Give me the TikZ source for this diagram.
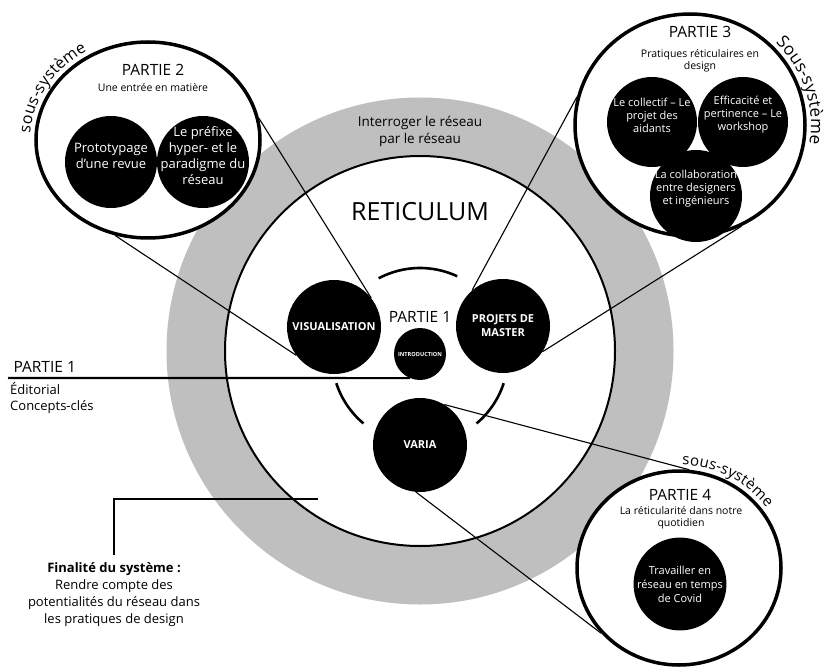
\documentclass[tikz,border=0pt]{standalone}
\usepackage{fontspec}
\setmainfont{Open Sans}
\usetikzlibrary{shapes.geometric,decorations.text}
\newcommand\sz[2]{\fontsize{#1}{#2}\selectfont}

\begin{document}
\begin{tikzpicture}[x=1pt, y=1pt,
    sys/.style n args={2}{ellipse, draw, line width=3.5pt, fill=white, inner sep=0pt, minimum width=#1, minimum height=#2},
    blob/.style={circle, fill=black, text=white, inner sep=0pt, minimum size=#1, align=center},
    blob/.default=92pt,
    intext/.style={text=white, align=center, inner sep=0pt},
    caps/.style={font=\bfseries\sz{11}{14}, text=white},
    head/.style={font=\sz{15.5}{18}},
    sub/.style={align=center, font=\sz{10.5}{12}},
    link/.style={line width=1.1pt},
    rule/.style={line width=2.2pt},
    hubarc/.style={line width=2.6pt},
    tag/.style n args={2}{decorate, decoration={text along path, text align=center, raise=3pt, text={|\sz{#1}{#1}|#2}}}]
  \useasboundingbox (0,0) rectangle (824,-668);
  \node[circle, fill=black!25, inner sep=0pt, minimum size=507pt] (ring) at (420,-351) {};
  \node[circle, draw, line width=2pt, fill=white, inner sep=0pt, minimum size=390pt] (core) at (420,-351) {};
  \coordinate (hub) at (420,-356);
  \draw[hubarc] (hub) ++(65:88) arc[start angle=65, end angle=118, radius=88];
  \draw[hubarc] (hub) ++(198:88) arc[start angle=198, end angle=230, radius=88];
  \draw[hubarc] (hub) ++(-50:88) arc[start angle=-50, end angle=-18, radius=88];

  \node[align=center, font=\sz{13.5}{17}] (motto) at (420,-131) {Interroger le réseau\\par le réseau};
  \node[font=\sz{25}{30}] (title) at (420,-212) {RETICULUM};
  \node[head] (p1mid) at (420,-317) {PARTIE 1};
  \node[blob=94pt, caps] (vis) at (334,-327) {VISUALISATION};
  \node[blob=94pt, caps] (proj) at (503,-326) {PROJETS DE\\MASTER};
  \node[blob=94pt, caps] (varia) at (420,-445) {VARIA};
  \node[blob=52pt, font=\bfseries\sz{5.6}{7}] (intro) at (420,-354) {INTRODUCTION};

  \node[sys={224pt}{196pt}] (p2) at (148,-140) {};
  \node[head] (p2t) at (153,-70) {PARTIE 2};
  \node[sub] (p2s) at (153,-88) {Une entrée en matière};
  \node[blob] (proto) at (111,-162) {};
  \node[blob] (hyper) at (203,-162) {};
  \node[intext, font=\sz{13}{16}] (protot) at ([yshift=6]proto.center) {Prototypage\\d’une revue};
  \node[intext, font=\sz{13}{16}] (hypert) at ([yshift=6]hyper.center) {Le préfixe\\hyper- et le\\paradigme du\\réseau};

  \node[sys={230pt}{222pt}] (p3) at (690,-125) {};
  \node[head] (p3t) at (700,-32) {PARTIE 3};
  \node[sub] (p3s) at (700,-61) {Pratiques réticulaires en\\design};
  \node[blob=90pt] (coll) at (652,-122) {};
  \node[blob=90pt] (effi) at (743,-122) {};
  \node[blob] (collab) at (696,-196) {};
  \node[intext, font=\sz{11}{13}] (collt) at ([yshift=7]coll.center) {Le collectif – Le\\projet des\\aidants};
  \node[intext, font=\sz{11}{13}] (effit) at ([yshift=7]effi.center) {Efficacité et\\pertinence – Le\\workshop};
  \node[intext, font=\sz{11}{13}] (collabt) at ([yshift=7]collab.center) {La collaboration\\entre designers\\et ingénieurs};

  \node[sys={204pt}{194pt}] (p4) at (679,-568) {};
  \node[head] (p4t) at (680,-495) {PARTIE 4};
  \node[sub] (p4s) at (681,-518) {La réticularité dans notre\\quotidien};
  \node[blob, font=\sz{11}{14}] (covid) at (680,-584) {Travailler en\\réseau en temps\\de Covid};

  \path[tag={16}{sous-système}] (p2.center) ++(200:115 and 101) arc[start angle=200, end angle=100, x radius=115, y radius=101];
  \path[tag={17}{Sous-système}] (p3.center) ++(70:118 and 114) arc[start angle=70, end angle=-35, x radius=118, y radius=114];
  \path[tag={15}{sous-système}] (p4.center) ++(115:105 and 100) arc[start angle=115, end angle=8, x radius=105, y radius=100];

  \draw[link] (p2.251) -- (vis.217);
  \draw[link] (p2.11) -- (vis.38);
  \draw[link] (p3.166) -- (proj.131);
  \draw[link] (p3.297) -- (proj.-33);
  \draw[link] (varia.59) -- (p4.84);
  \draw[link] (varia.-95) -- (p4.220);

  \node[head, anchor=base west] (p1left) at (10,-372) {PARTIE 1};
  \node[anchor=north west, align=left, font=\sz{13}{16}, inner sep=0pt] (p1list) at (10,-382) {Éditorial\\Concepts-clés};
  \coordinate (p1start) at (8,-378);
  \draw[rule] (p1start) -- (intro.247);

  \node[anchor=north, align=center, font=\sz{13}{17}, inner sep=0pt] (goal) at (114,-562) {\textbf{Finalité du système :}\\Rendre compte des\\potentialités du réseau dans\\les pratiques de design};
  \coordinate (goalend) at (318,-499);
  \draw[rule] ([yshift=7]goal.north) |- (goalend);
\end{tikzpicture}
\end{document}
